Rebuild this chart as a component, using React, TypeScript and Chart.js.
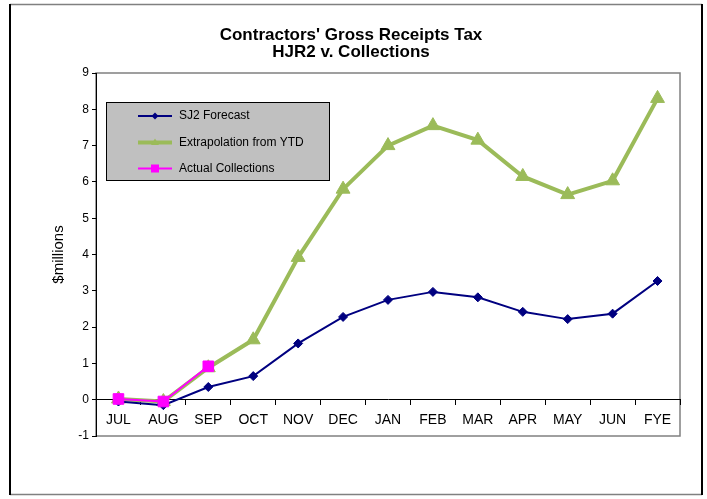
import React, { useEffect, useRef } from 'react';
import { Chart, registerables } from 'chart.js';

Chart.register(...registerables);

const categories = ['JUL', 'AUG', 'SEP', 'OCT', 'NOV', 'DEC', 'JAN', 'FEB', 'MAR', 'APR', 'MAY', 'JUN', 'FYE'];
const sj2Forecast = [-0.05, -0.15, 0.35, 0.65, 1.55, 2.28, 2.75, 2.97, 2.82, 2.42, 2.22, 2.37, 3.27];
const extrapolation = [0.02, -0.05, 0.88, 1.65, 3.92, 5.8, 7.0, 7.55, 7.15, 6.15, 5.65, 6.03, 8.3];
const actualCollections = [0.02, -0.05, 0.92, null, null, null, null, null, null, null, null, null, null];
const seriesNames = ['SJ2 Forecast', 'Extrapolation from YTD', 'Actual Collections'];
const titleLines = ["Contractors' Gross Receipts Tax", 'HJR2 v. Collections'];
const yAxisTitle = '$millions';
const yMin = -1;
const yMax = 9;
const yStep = 1;

const FONT = '"Liberation Sans", Arial, sans-serif';
const NAVY = '#000080';
const GREEN = '#9BBB59';
const MAGENTA = '#FF00FF';

const decorPlugin = {
  id: 'decor',
  beforeDraw(chart: any) {
    const ctx = chart.ctx as CanvasRenderingContext2D;
    const a = chart.chartArea;
    ctx.save();
    ctx.fillStyle = '#ffffff';
    ctx.fillRect(0, 0, chart.width, chart.height);
    // outer frame
    ctx.lineWidth = 1.5;
    ctx.strokeStyle = '#808080';
    ctx.beginPath();
    ctx.moveTo(10, 4.5);
    ctx.lineTo(702, 4.5);
    ctx.moveTo(10, 494.5);
    ctx.lineTo(702, 494.5);
    ctx.stroke();
    ctx.strokeStyle = '#000000';
    ctx.lineWidth = 2;
    ctx.beginPath();
    ctx.moveTo(10, 4);
    ctx.lineTo(10, 495);
    ctx.moveTo(702, 4);
    ctx.lineTo(702, 495);
    ctx.stroke();
    // plot area frame
    ctx.strokeStyle = '#808080';
    ctx.lineWidth = 1.5;
    ctx.strokeRect(a.left, a.top, a.right - a.left, a.bottom - a.top);
    // title
    ctx.fillStyle = '#000000';
    ctx.font = `bold 17px ${FONT}`;
    ctx.textAlign = 'center';
    ctx.textBaseline = 'middle';
    ctx.fillText(titleLines[0], 351, 35);
    ctx.fillText(titleLines[1], 351, 52);
    ctx.restore();
  },
  afterDraw(chart: any) {
    const ctx = chart.ctx as CanvasRenderingContext2D;
    ctx.save();
    ctx.fillStyle = '#C0C0C0';
    ctx.fillRect(107, 103, 223, 78);
    ctx.strokeStyle = '#000000';
    ctx.lineWidth = 1;
    ctx.strokeRect(106.5, 102.5, 223, 78);
    const rows = [116, 142.5, 168.5];
    const colors = [NAVY, GREEN, MAGENTA];
    const widths = [2, 4, 2];
    rows.forEach((y, i) => {
      ctx.strokeStyle = colors[i];
      ctx.lineWidth = widths[i];
      ctx.beginPath();
      ctx.moveTo(138, y);
      ctx.lineTo(172, y);
      ctx.stroke();
      ctx.fillStyle = colors[i];
      const cx = 155;
      ctx.beginPath();
      if (i === 0) {
        ctx.moveTo(cx, y - 3.5);
        ctx.lineTo(cx + 3.5, y);
        ctx.lineTo(cx, y + 3.5);
        ctx.lineTo(cx - 3.5, y);
        ctx.closePath();
      } else if (i === 1) {
        ctx.moveTo(cx, y - 4);
        ctx.lineTo(cx + 4, y + 2.5);
        ctx.lineTo(cx - 4, y + 2.5);
        ctx.closePath();
      } else {
        ctx.rect(cx - 4, y - 4, 8, 8);
      }
      ctx.fill();
      ctx.fillStyle = '#000000';
      ctx.font = `12px ${FONT}`;
      ctx.textAlign = 'left';
      ctx.textBaseline = 'middle';
      ctx.fillText(seriesNames[i], 179, y);
    });
    ctx.restore();
  },
};

export default function App() {
  const canvasRef = useRef<HTMLCanvasElement | null>(null);

  useEffect(() => {
    document.body.style.margin = '0';
    const canvas = canvasRef.current;
    if (!canvas) return;
    Chart.defaults.font.family = FONT;
    const chart = new Chart(canvas, {
      type: 'line',
      data: {
        labels: categories,
        datasets: [
          {
            label: seriesNames[0],
            data: sj2Forecast,
            borderColor: NAVY,
            backgroundColor: NAVY,
            borderWidth: 2,
            pointStyle: 'rectRot',
            pointRadius: 4.5,
            pointBorderWidth: 1,
            tension: 0,
            order: 1,
          },
          {
            label: seriesNames[1],
            data: extrapolation,
            borderColor: GREEN,
            backgroundColor: GREEN,
            borderWidth: 4,
            pointStyle: 'triangle',
            pointRadius: 8,
            pointBorderWidth: 1,
            tension: 0,
            order: 2,
          },
          {
            label: seriesNames[2],
            data: actualCollections,
            borderColor: MAGENTA,
            backgroundColor: MAGENTA,
            borderWidth: 2,
            pointStyle: 'rect',
            pointRadius: 7.5,
            pointBorderWidth: 1,
            tension: 0,
            spanGaps: false,
            order: 0,
          },
        ],
      },
      options: {
        responsive: false,
        animation: false,
        layout: { padding: { left: 46, top: 73, right: 27, bottom: 63 } },
        plugins: {
          legend: { display: false },
          title: { display: false },
          tooltip: { enabled: false },
        },
        scales: {
          x: {
            type: 'category',
            offset: true,
            position: { y: 0 } as any,
            grid: {
              display: true,
              drawOnChartArea: false,
              drawTicks: true,
              tickLength: 5,
              offset: true,
              color: '#000000',
            },
            border: { display: true, color: '#000000', width: 1 },
            ticks: {
              color: '#000000',
              font: { size: 14 },
              padding: 7,
              maxRotation: 0,
              autoSkip: false,
            },
          },
          y: {
            position: 'left',
            min: yMin,
            max: yMax,
            afterFit(scale: any) {
              scale.width = 50;
            },
            grid: {
              display: true,
              drawOnChartArea: false,
              drawTicks: true,
              tickLength: 4,
              color: '#000000',
            },
            border: { display: true, color: '#000000', width: 1 },
            ticks: {
              stepSize: yStep,
              color: '#000000',
              font: { size: 12 },
              padding: 3,
            },
            title: {
              display: true,
              text: yAxisTitle,
              color: '#000000',
              font: { size: 15 },
              padding: { top: 4, bottom: 4 },
            },
          },
        },
      },
      plugins: [decorPlugin],
    });
    return () => chart.destroy();
  }, []);

  return (
    <div style={{ width: 707, height: 499 }}>
      <canvas ref={canvasRef} width={707} height={499} style={{ display: 'block' }} />
    </div>
  );
}
